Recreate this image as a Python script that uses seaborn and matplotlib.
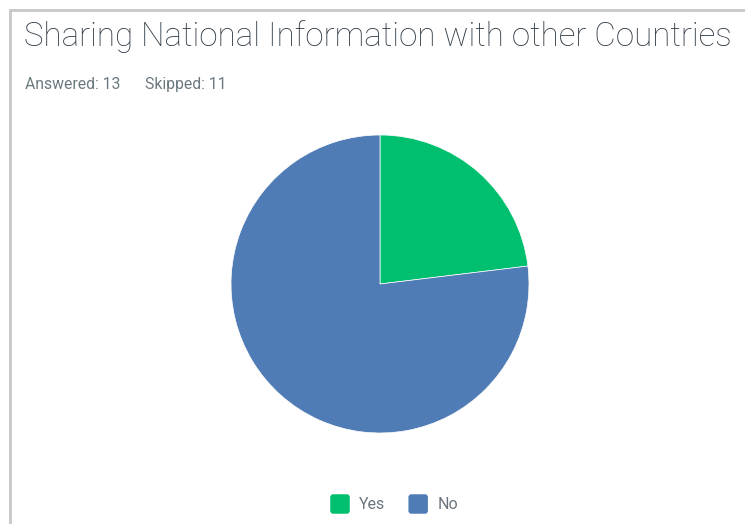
import matplotlib
matplotlib.use("Agg")
import matplotlib.pyplot as plt
from matplotlib.lines import Line2D
from matplotlib.patches import FancyBboxPatch, Patch
from matplotlib.legend_handler import HandlerBase
import seaborn as sns

# Survey question results
categories = ["Yes", "No"]
counts = [3, 10]
answered = 13
skipped = 11
title = "Sharing National Information with other Countries"
colors = ["#00BF6F", "#507CB6"]

sns.set_theme(style="white")
plt.rcParams["font.family"] = ["Roboto", "DejaVu Sans"]


class RoundedSwatch(HandlerBase):
    """Legend key drawn as a small rounded square."""

    def create_artists(self, legend, orig_handle, xdescent, ydescent,
                       width, height, fontsize, trans):
        s = min(width, height)
        box = FancyBboxPatch((-xdescent + (width - s) / 2, -ydescent + (height - s) / 2),
                             s, s, boxstyle=f"round,pad=0,rounding_size={s * 0.15}",
                             facecolor=orig_handle.get_facecolor(),
                             edgecolor="none", transform=trans)
        return [box]


W, H = 745, 524
fig = plt.figure(figsize=(W / 100, H / 100), dpi=100)
fig.patch.set_facecolor("white")

# Card border (top and left edges)
fig.add_artist(Line2D([10 / W, 1], [1 - 10 / H, 1 - 10 / H], color="#c8c8c8", lw=2.0))
fig.add_artist(Line2D([10 / W, 10 / W], [0, 1 - 10 / H], color="#c8c8c8", lw=2.0))

fig.text(24 / W, 1 - 46 / H, title, fontsize=23.9, color="#333e48",
         fontweight="light", ha="left", va="baseline")
fig.text(25 / W, 1 - 89 / H, f"Answered: {answered}", fontsize=11.3,
         color="#6b787f", ha="left", va="baseline")
fig.text(145 / W, 1 - 89 / H, f"Skipped: {skipped}", fontsize=11.3,
         color="#6b787f", ha="left", va="baseline")

# Pie chart
cx, cy, r = 380, 284, 149
ax = fig.add_axes([(cx - r) / W, (H - cy - r) / H, 2 * r / W, 2 * r / H])
wedges, _ = ax.pie(counts, colors=colors, startangle=90, counterclock=False,
                   radius=1.0, wedgeprops=dict(linewidth=0.5, edgecolor="white"))
ax.set_xlim(-1, 1)
ax.set_ylim(-1, 1)
ax.set_aspect("equal")
ax.axis("off")

handles = [Patch(facecolor=c) for c in colors]
leg = fig.legend(handles, categories, loc="center", ncol=2,
                 bbox_to_anchor=(393 / W, 1 - 504 / H), frameon=False,
                 fontsize=11.5, handlelength=1.5, handleheight=1.5,
                 handletextpad=0.45, columnspacing=1.3, labelcolor="#6b747c",
                 handler_map={Patch: RoundedSwatch()})

fig.savefig("out.png", dpi=100, facecolor="white")
